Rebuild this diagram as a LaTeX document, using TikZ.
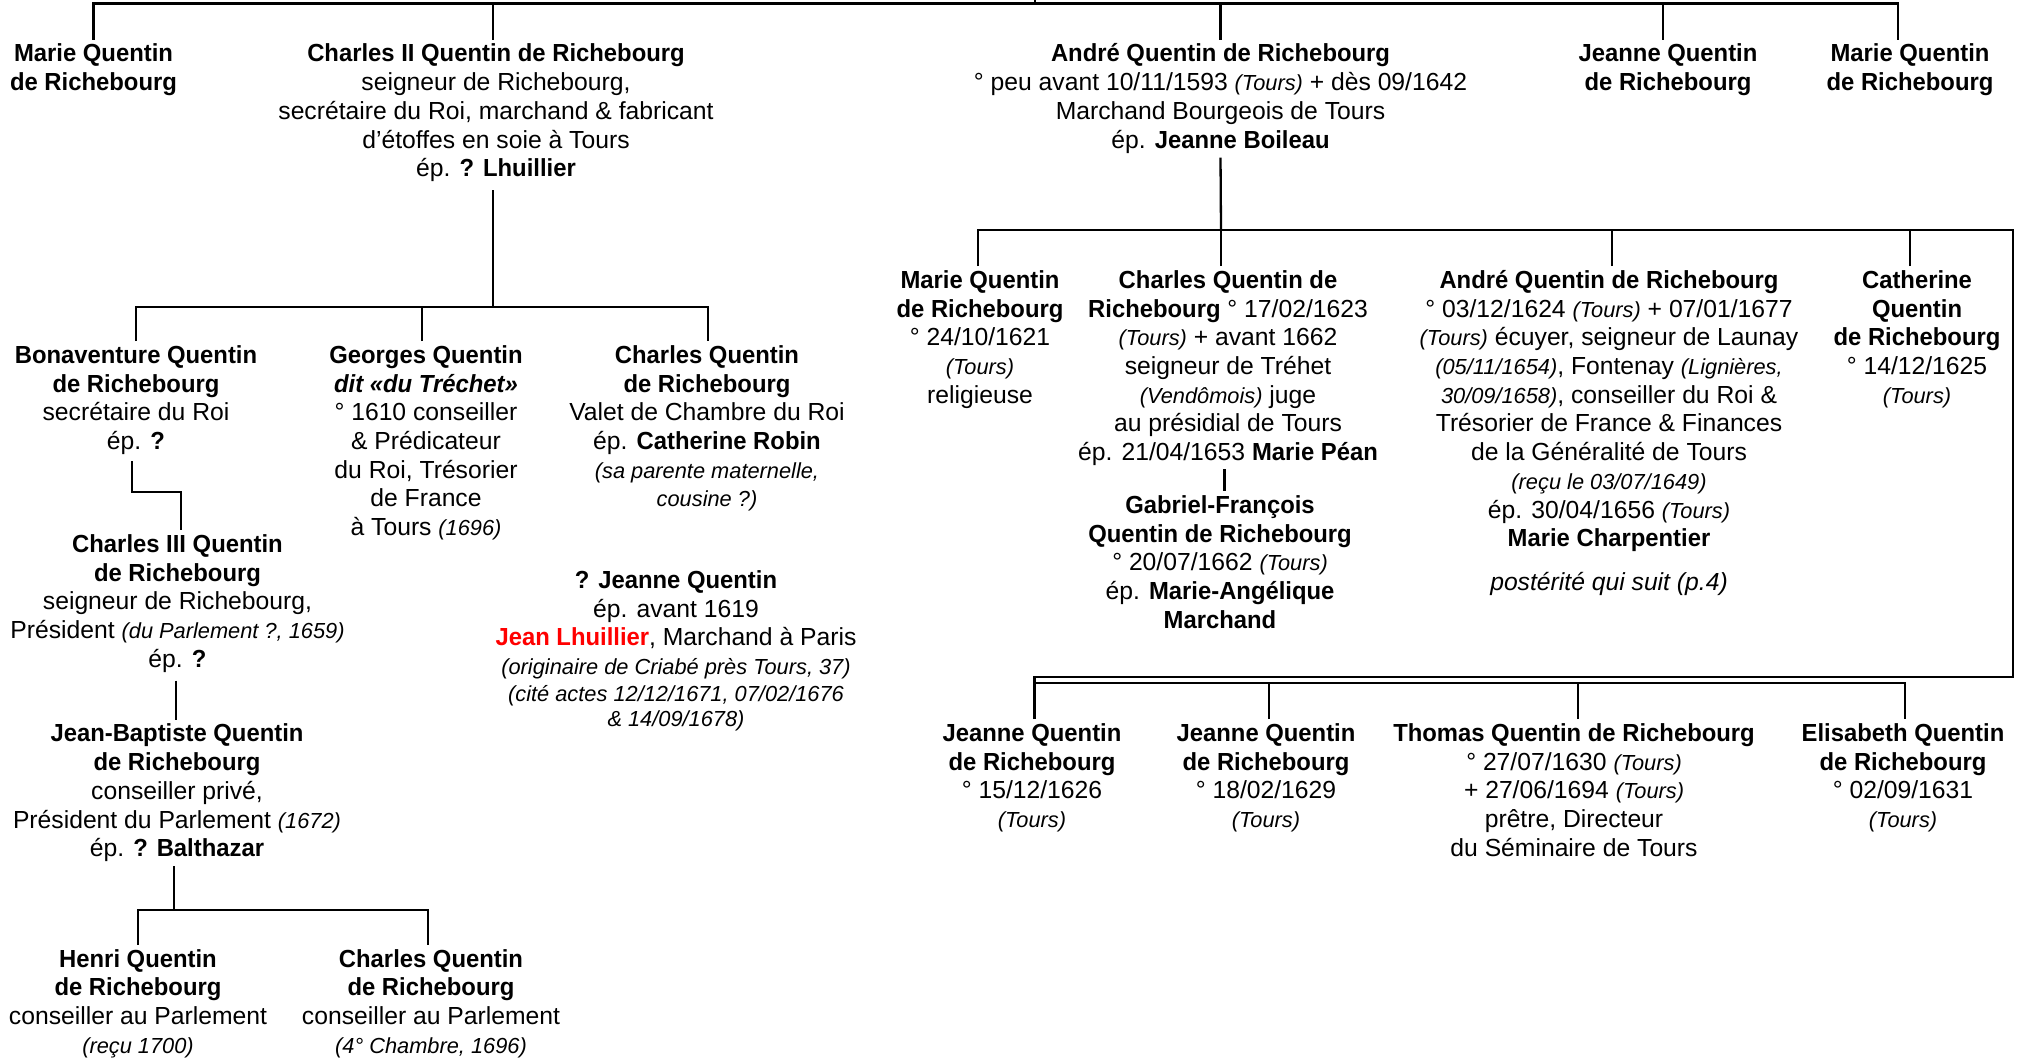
\documentclass[tikz,border=0pt]{standalone}
\usepackage{fontspec}
\setmainfont[BoldFeatures={FakeStretch=0.965},BoldItalicFeatures={FakeStretch=0.965}]{Liberation Sans}
\newcommand\smit[1]{{\fontsize{10.9}{14.35}\selectfont\itshape #1}}
\newcommand\fs{\rule{0pt}{11pt}}
\begin{document}
\begin{tikzpicture}[x=0.5pt,y=-0.5pt,
  ln/.style={line width=1.15pt,line join=miter},
  pers/.style={anchor=north,align=center,inner sep=0pt,font=\fontsize{12.35}{14.35}\selectfont}]
\useasboundingbox (0,0) rectangle (2022,1057);
% ---------- row 1
\node[pers] (mq1) at (93.5,39.5) {\fs\textbf{Marie Quentin}\\\textbf{de Richebourg}};
\node[pers] (c2) at (496,39.5) {\fs\textbf{Charles II Quentin de Richebourg}\\seigneur de Richebourg,\\secrétaire du Roi, marchand \& fabricant\\d’étoffes en soie à Tours\\ép. \textbf{? Lhuillier}};
\node[pers] (an1) at (1220.5,39.5) {\fs\textbf{André Quentin de Richebourg}\\° peu avant 10/11/1593 \smit{(Tours)} + dès 09/1642\\Marchand Bourgeois de Tours\\ép. \textbf{Jeanne Boileau}};
\node[pers] (jq1) at (1668,39.5) {\fs\textbf{Jeanne Quentin}\\\textbf{de Richebourg}};
\node[pers] (mq2) at (1910,39.5) {\fs\textbf{Marie Quentin}\\\textbf{de Richebourg}};
% ---------- row 2 (left)
\node[pers] (bon) at (136,341) {\fs\textbf{Bonaventure Quentin}\\\textbf{de Richebourg}\\secrétaire du Roi\\ép. \textbf{?}};
\node[pers] (geo) at (426,341) {\fs\textbf{Georges Quentin}\\\textbf{\textit{dit «du Tréchet»}}\\° 1610 conseiller\\\& Prédicateur\\du Roi, Trésorier\\de France\\à Tours \smit{(1696)}};
\node[pers] (cq2) at (707,341) {\fs\textbf{Charles Quentin}\\\textbf{de Richebourg}\\Valet de Chambre du Roi\\ép. \textbf{Catherine Robin}\\\smit{(sa parente maternelle,}\\\smit{cousine ?)}};
\node[pers] (jnq) at (676,566) {\fs\textbf{? Jeanne Quentin}\\ép. avant 1619\\\textcolor{red}{\textbf{Jean Lhuillier}}, Marchand à Paris\\\smit{(originaire de Criabé près Tours, 37)}\\[-0.85pt]\smit{(cité actes 12/12/1671, 07/02/1676}\\[-1.85pt]\smit{\& 14/09/1678)}};
\node[pers] (c3) at (177.5,530) {\fs\textbf{Charles III Quentin}\\\textbf{de Richebourg}\\seigneur de Richebourg,\\Président \smit{(du Parlement ?, 1659)}\\ép. \textbf{?}};
\node[pers] (jbq) at (177,719.5) {\fs\textbf{Jean-Baptiste Quentin}\\\textbf{de Richebourg}\\conseiller privé,\\Président du Parlement \smit{(1672)}\\ép. \textbf{? Balthazar}};
\node[pers] (hq) at (138,944.7) {\fs\textbf{Henri Quentin}\\\textbf{de Richebourg}\\conseiller au Parlement\\\smit{(reçu 1700)}};
\node[pers] (cq4) at (431,944.7) {\fs\textbf{Charles Quentin}\\\textbf{de Richebourg}\\conseiller au Parlement\\\smit{(4° Chambre, 1696)}};
% ---------- row 3 (right)
\node[pers] (mq3) at (980,266) {\fs\textbf{Marie Quentin}\\\textbf{de Richebourg}\\° 24/10/1621\\\smit{(Tours)}\\religieuse};
\node[pers] (cq3) at (1228,266) {\fs\textbf{Charles Quentin de}\\\textbf{Richebourg} ° 17/02/1623\\\smit{(Tours)} + avant 1662\\seigneur de Tréhet\\\smit{(Vendômois)} juge\\au présidial de Tours\\ép. 21/04/1653 \textbf{Marie Péan}};
\node[pers] (gf) at (1220,491) {\fs\textbf{Gabriel-François}\\\textbf{Quentin de Richebourg}\\° 20/07/1662 \smit{(Tours)}\\ép. \textbf{Marie-Angélique}\\\textbf{Marchand}};
\node[pers] (an2) at (1609,266) {\fs\textbf{André Quentin de Richebourg}\\° 03/12/1624 \smit{(Tours)} + 07/01/1677\\\smit{(Tours)} écuyer, seigneur de Launay\\\smit{(05/11/1654)}, Fontenay \smit{(Lignières,}\\\smit{30/09/1658)}, conseiller du Roi \&\\Trésorier de France \& Finances\\de la Généralité de Tours\\\smit{(reçu le 03/07/1649)}\\ép. 30/04/1656 \smit{(Tours)}\\\textbf{Marie Charpentier}\\[7.5pt]\textit{postérité qui suit (p.4)}};
\node[pers] (cat) at (1917,266) {\fs\textbf{Catherine}\\\textbf{Quentin}\\\textbf{de Richebourg}\\° 14/12/1625\\\smit{(Tours)}};
% ---------- row 4 (right)
\node[pers] (ja) at (1032,719) {\fs\textbf{Jeanne Quentin}\\\textbf{de Richebourg}\\° 15/12/1626\\\smit{(Tours)}};
\node[pers] (jb) at (1266,719) {\fs\textbf{Jeanne Quentin}\\\textbf{de Richebourg}\\° 18/02/1629\\\smit{(Tours)}};
\node[pers] (th) at (1574,719) {\fs\textbf{Thomas Quentin de Richebourg}\\° 27/07/1630 \smit{(Tours)}\\+ 27/06/1694 \smit{(Tours)}\\prêtre, Directeur\\du Séminaire de Tours};
\node[pers] (el) at (1903,719) {\fs\textbf{Elisabeth Quentin}\\\textbf{de Richebourg}\\° 02/09/1631\\\smit{(Tours)}};
% ---------- connectors: top generation
\coordinate (par) at (1035,0);
\coordinate (bar0) at (1035,3.5);
\draw[ln] (mq1.north) |- (bar0) -| ([xshift=-6pt]mq2.north);
\draw[ln] (par) -- (bar0);
\draw[ln] ([xshift=-1.5pt]c2.north) -- ([xshift=-1.5pt]c2.north |- bar0);
\draw[ln] (an1.north) -- (an1.north |- bar0);
\draw[ln] ([xshift=-2.5pt]jq1.north) -- ([xshift=-2.5pt]jq1.north |- bar0);
% ---------- Charles II's children
\coordinate (bar1) at (493,306.7);
\draw[ln] ([xshift=-1.5pt,yshift=-4pt]c2.south) -- (bar1);
\draw[ln] (bon.north) |- (bar1) -| ([xshift=0.5pt]cq2.north);
\draw[ln] ([xshift=-2.15pt]geo.north) -- ([xshift=-2.15pt]geo.north |- bar1);
\coordinate (k1) at (0,492);
\draw[ln] ([xshift=-2.15pt,yshift=-3pt]bon.south) |- ([xshift=1.75pt]c3.north |- k1) -- ([xshift=1.75pt]c3.north);
\draw[ln] ([xshift=-0.75pt,yshift=-4pt]c3.south) -- ([xshift=-0.75pt]c3.south |- jbq.north);
\coordinate (bar2) at (174,910);
\draw[ln] ([xshift=-1.5pt,yshift=-2pt]jbq.south) -- (bar2);
\draw[ln] (hq.north) |- (bar2) -| ([xshift=-1.5pt]cq4.north);
% ---------- André's children
\coordinate (bar3) at (1221,230);
\coordinate (rc) at (2013,676.7);
\draw[ln] ([yshift=-2pt]an1.south) -- (bar3);
\draw[ln] ([xshift=-1pt]mq3.north) |- (bar3) -| (rc) -| ([xshift=1.25pt]ja.north);
\draw[ln] ([xshift=-3.5pt]cq3.north) -- ([xshift=-3.5pt]cq3.north |- bar3);
\draw[ln] ([xshift=1.5pt]an2.north) -- ([xshift=1.5pt]an2.north |- bar3);
\draw[ln] ([xshift=-3.5pt]cat.north) -- ([xshift=-3.5pt]cat.north |- bar3);
\draw[ln] ([xshift=-1.7pt,yshift=-1.5pt]cq3.south) -- ([xshift=-1.7pt]cq3.south |- gf.north);
\coordinate (bar4) at (1300,683.3);
\draw[ln] ([xshift=1.25pt]ja.north) |- (bar4) -| ([xshift=1pt]el.north);
\draw[ln] ([xshift=1.5pt]jb.north) -- ([xshift=1.5pt]jb.north |- bar4);
\draw[ln] ([xshift=2pt]th.north) -- ([xshift=2pt]th.north |- bar4);
\end{tikzpicture}
\end{document}
